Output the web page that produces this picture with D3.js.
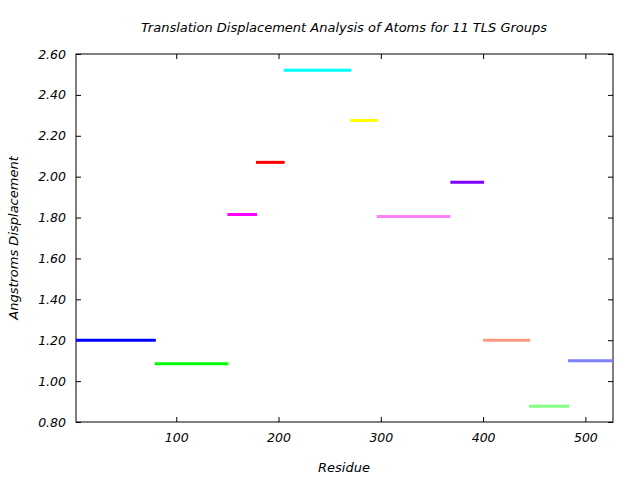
<!DOCTYPE html>
<html>
<head>
<meta charset="utf-8">
<script src="https://cdn.jsdelivr.net/npm/d3@7"></script>
<style>
  body { margin: 0; background: #fff; }
  text { font-family: "DejaVu Sans", sans-serif; font-style: italic; fill: #000; }
</style>
</head>
<body>
<svg width="640" height="480"></svg>
<script>
// TLS groups: residue range and mean displacement
var groupStart = [2, 79, 150, 178, 205, 270, 296, 368, 400, 445, 483];
var groupEnd   = [80, 151, 179, 206, 271, 297, 368, 401, 446, 484, 527];
var displacement = [1.20, 1.085, 1.815, 2.07, 2.52, 2.275, 1.805, 1.973, 1.20, 0.877, 1.10];
var groupColors = ["#0000ff", "#00ff00", "#ff00ff", "#ff0000", "#00ffff", "#ffff00",
                   "#ff80ff", "#7f00ff", "#ff9980", "#80ff80", "#8080ff"];
var xTicks = [100, 200, 300, 400, 500];
var yTicks = [0.8, 1.0, 1.2, 1.4, 1.6, 1.8, 2.0, 2.2, 2.4, 2.6];

var svg = d3.select("svg");
var plotLeft = 76, plotRight = 613, plotTop = 54, plotBottom = 422;

var x = d3.scaleLinear().domain([2, 527]).range([plotLeft, plotRight]);
var y = d3.scaleLinear().domain([0.8, 2.6]).range([plotBottom, plotTop]);

// axes, ticks pointing inward, mirrored on top/right
svg.append("g").attr("transform", "translate(0," + plotBottom + ")")
  .call(d3.axisBottom(x).tickValues(xTicks).tickSizeInner(-5).tickSizeOuter(0).tickPadding(11))
  .call(function(g) { g.select(".domain").remove(); });
svg.append("g").attr("transform", "translate(0," + plotTop + ")")
  .call(d3.axisTop(x).tickValues(xTicks).tickSizeInner(-5).tickSizeOuter(0).tickFormat(""))
  .call(function(g) { g.select(".domain").remove(); });
svg.append("g").attr("transform", "translate(" + plotLeft + ",0)")
  .call(d3.axisLeft(y).tickValues(yTicks).tickSizeInner(-5).tickSizeOuter(0).tickPadding(10)
    .tickFormat(d3.format(".2f")))
  .call(function(g) { g.select(".domain").remove(); });
svg.append("g").attr("transform", "translate(" + plotRight + ",0)")
  .call(d3.axisRight(y).tickValues(yTicks).tickSizeInner(-5).tickSizeOuter(0).tickFormat(""))
  .call(function(g) { g.select(".domain").remove(); });

svg.selectAll(".tick line").attr("stroke", "#000").attr("stroke-width", 1);
svg.selectAll(".tick text").style("font-family", "DejaVu Sans").style("font-style", "italic")
  .attr("font-size", 12.5).attr("fill", "#000");

svg.append("rect")
  .attr("x", plotLeft).attr("y", plotTop)
  .attr("width", plotRight - plotLeft).attr("height", plotBottom - plotTop)
  .attr("fill", "none").attr("stroke", "#000").attr("stroke-width", 1);

// group segments
svg.append("g").selectAll("line")
  .data(displacement)
  .join("line")
  .attr("x1", function(d, i) { return x(groupStart[i]); })
  .attr("x2", function(d, i) { return x(groupEnd[i]); })
  .attr("y1", function(d) { return y(d); })
  .attr("y2", function(d) { return y(d); })
  .attr("stroke", function(d, i) { return groupColors[i]; })
  .attr("stroke-width", 3);

svg.append("text").attr("x", 344).attr("y", 32).attr("text-anchor", "middle")
  .attr("font-size", 13).text("Translation Displacement Analysis of Atoms for 11 TLS Groups");
svg.append("text").attr("x", 344).attr("y", 472).attr("text-anchor", "middle")
  .attr("font-size", 13).text("Residue");
svg.append("text").attr("transform", "translate(18,238) rotate(-90)").attr("text-anchor", "middle")
  .attr("font-size", 13).text("Angstroms Displacement");
</script>
</body>
</html>
